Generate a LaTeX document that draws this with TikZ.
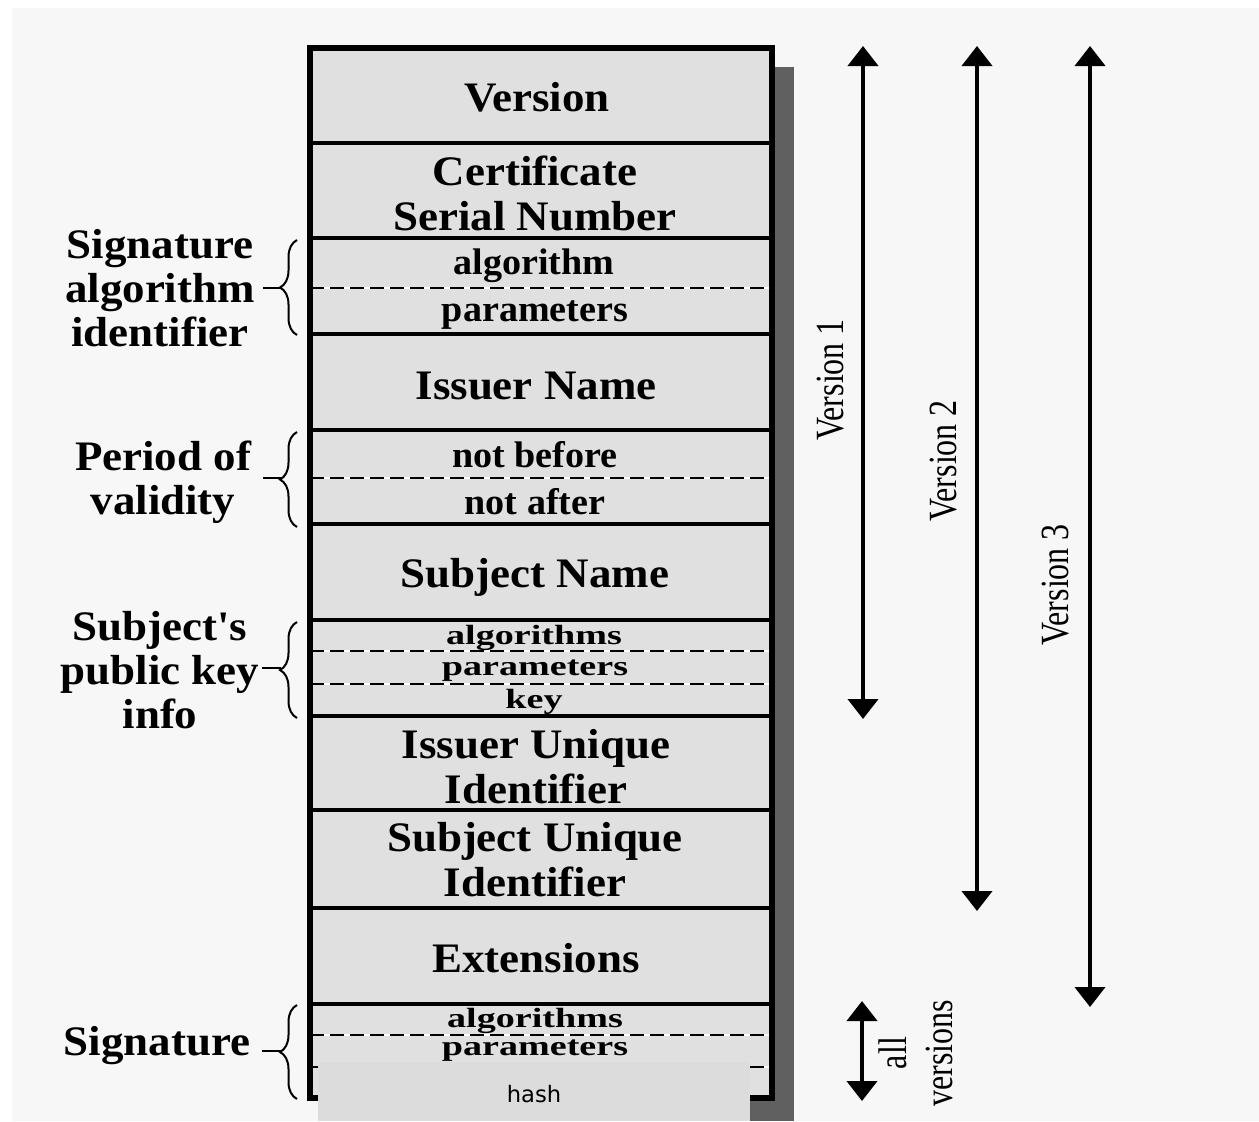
\documentclass[tikz,border=0pt]{standalone}
\usepackage{fontspec}
\setmainfont{Liberation Serif}
\newfontfamily\hashfont{DejaVu Sans}
\usetikzlibrary{arrows.meta,decorations.pathreplacing}
\definecolor{bgc}{HTML}{F7F7F7}
\definecolor{boxc}{HTML}{E0E0E0}
\definecolor{hashc}{HTML}{DCDCDC}
\definecolor{shadowc}{HTML}{606060}
\newcommand{\sqz}[1]{\scalebox{1.03}[0.75]{#1}}
\newcommand{\wde}[1]{\scalebox{1.07}[1]{#1}}
\newcommand{\swd}[1]{\scalebox{1.03}[1]{#1}}
\newcommand{\nrw}[1]{\scalebox{0.8}[1]{#1}}
\begin{document}
\begin{tikzpicture}[x=0.75pt,y=-0.75pt,
  bigtext/.style={font=\fontsize{31.5}{33.75}\selectfont\bfseries, align=center, inner sep=0pt},
  smalltext/.style={font=\fontsize{27.75}{30}\selectfont\bfseries, align=center, inner sep=0pt},
  sidetext/.style={font=\fontsize{31.5}{33}\selectfont\bfseries, align=center, inner sep=0pt},
  vertext/.style={font=\fontsize{30}{34.5}\selectfont, align=center, inner sep=0pt, rotate=90},
  sepline/.style={line width=3pt},
  dashline/.style={line width=1.5pt, dash pattern=on 10.5pt off 4.5pt},
  varrow/.style={line width=3pt, {Triangle[width=22.5pt,length=15pt]}-{Triangle[width=22.5pt,length=15pt]}},
  bracestyle/.style={line width=1.5pt, decorate, decoration={brace, amplitude=12.75pt, aspect=0.5}},
  tick/.style={line width=1.5pt}]
\useasboundingbox (0,0) rectangle (1259,1121);
\fill[white] (0,0) rectangle (1259,1121);
\fill[bgc] (12,8) rectangle (1259,1121);
% shadow and main box
\fill[shadowc] (327,67) rectangle (794,1121);
\fill[boxc] (307,45) rectangle (775,1101);
\foreach \yy in {143,238,334,430,524,620,716,810,908,1004}
  \draw[sepline] (310,\yy) -- (772,\yy);
\foreach \yy in {288,478,651,684,1035,1067}{
  \draw[white, line width=1.5pt] (310,\yy) -- (772,\yy);
  \draw[dashline] (310,\yy) -- (772,\yy);
}
\draw[line width=4.5pt] (310,48) rectangle (772,1098);
% hash box on top
\fill[hashc] (318,1062) rectangle (750,1121);
\node[font=\hashfont\fontsize{17}{20}\selectfont, inner sep=0pt] (hash) at (534,1094) {hash};
% row texts
\node[bigtext] (version) at (537,97) {\wde{Version}};
\node[bigtext] (serial) at (535,193) {\wde{Certificate}\\\wde{Serial Number}};
\node[smalltext] (alg1) at (534,266) {\swd{algorithm}};
\node[smalltext] (par1) at (535,315) {\swd{parameters}};
\node[bigtext] (issuer) at (536,386) {\wde{Issuer Name}};
\node[smalltext] (nb) at (535,455) {\swd{not before}};
\node[smalltext] (na) at (535,502) {\swd{not after}};
\node[bigtext] (subject) at (535,577) {\wde{Subject Name}};
\node[smalltext] (alg2) at (534,638) {\sqz{algorithms}};
\node[smalltext] (par2) at (535,671) {\sqz{parameters}};
\node[smalltext] (key) at (534,702) {\sqz{key}};
\node[bigtext] (iuid) at (536,767) {\wde{Issuer Unique}\\\wde{Identifier}};
\node[bigtext] (suid) at (535,860) {\wde{Subject Unique}\\\wde{Identifier}};
\node[bigtext] (ext) at (536,958) {\wde{Extensions}};
\node[smalltext] (alg3) at (535,1021) {\sqz{algorithms}};
\node[smalltext] (par3) at (535,1051) {\sqz{parameters}};
% left labels and braces
\node[sidetext] (sigalg) at (160,288) {\wde{Signature}\\\wde{algorithm}\\\wde{identifier}};
\node[sidetext] (period) at (163,482) {\wde{Period of}\\\wde{validity}};
\node[sidetext] (spki) at (160,670) {\wde{Subject\textquotesingle s}\\\wde{public key}\\\wde{info}};
\node[sidetext] (sig) at (157,1046) {\wde{Signature}};
\coordinate (b1t) at (297,240); \coordinate (b1b) at (297,335);
\coordinate (b2t) at (297,432); \coordinate (b2b) at (297,527);
\coordinate (b3t) at (297,622); \coordinate (b3b) at (297,718);
\coordinate (b4t) at (297,1005); \coordinate (b4b) at (297,1099);
\draw[bracestyle] (b1b) -- (b1t);
\draw[bracestyle] (b2b) -- (b2t);
\draw[bracestyle] (b3b) -- (b3t);
\draw[bracestyle] (b4b) -- (b4t);
\draw[tick] (263,288) -- (281,288);
\draw[tick] (263,478) -- (281,478);
\draw[tick] (262,668) -- (281,668);
\draw[tick] (262,1051) -- (281,1051);
% version arrows
\coordinate (v1t) at (863,46); \coordinate (v1b) at (863,719);
\coordinate (v2t) at (977,46); \coordinate (v2b) at (977,911);
\coordinate (v3t) at (1090,46); \coordinate (v3b) at (1090,1007);
\coordinate (vat) at (862,1001); \coordinate (vab) at (862,1101);
\draw[varrow] (v1t) -- (v1b);
\draw[varrow] (v2t) -- (v2b);
\draw[varrow] (v3t) -- (v3b);
\draw[varrow] (vat) -- (vab);
\node[vertext] (lv1) at (831,380) {\nrw{Version 1}};
\node[vertext] (lv2) at (944,461) {\nrw{Version 2}};
\node[vertext] (lv3) at (1056,585) {\nrw{Version 3}};
\node[vertext] (lva) at (916,1053) {\nrw{all}\\\nrw{versions}};
\end{tikzpicture}
\end{document}
